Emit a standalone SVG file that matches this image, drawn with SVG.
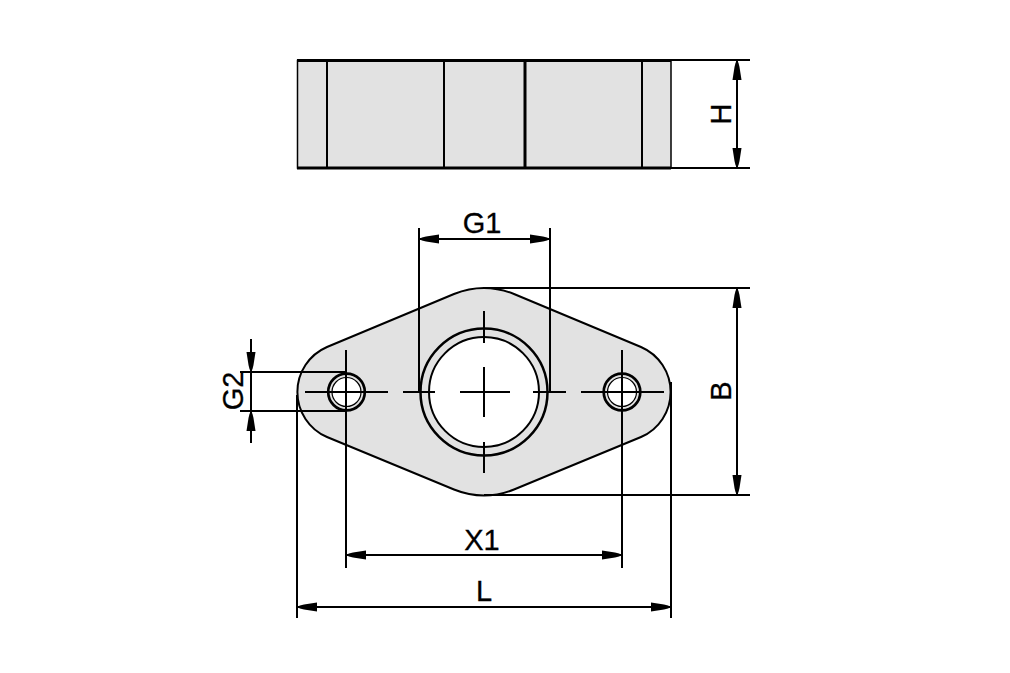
<svg xmlns="http://www.w3.org/2000/svg" width="1010" height="673" viewBox="0 0 1010 673">
<style>
.body{fill:#e2e2e2;stroke:#000;stroke-width:2}
.hole{fill:#fff;stroke:#000}
.ring{fill:#e2e2e2;stroke:#000}
.ln{fill:none;stroke:#000;stroke-width:2}
.thick{fill:none;stroke:#000;stroke-width:3}
.dim{fill:none;stroke:#000;stroke-width:2;marker-end:url(#arrow)}
text{font-family:"Liberation Sans",Arial,sans-serif;font-size:29px;fill:#000;stroke:#000;stroke-width:.3;text-anchor:middle}
</style>
<defs>
<marker id="arrow" markerUnits="userSpaceOnUse" markerWidth="22" markerHeight="12" refX="21" refY="6" orient="auto">
<polygon points="21,6 18,4.500 14,3.500 1,1.500 1,10.500 14,8.500 18,7.500" fill="#000"/>
</marker>
</defs>
<rect width="1010" height="673" fill="#fff"/>
<g id="side-view">
<rect x="297.5" y="60.5" width="373.5" height="107.5" fill="#e2e2e2" stroke="#000" stroke-width="1.5"/>
<path class="thick" d="M297 60.5H671M297 168H671"/>
<path class="ln" d="M327 60V168M444 60V168M642 60V168"/>
<path class="thick" d="M525 60V168"/>
</g>
<g id="plate">
<path class="body" d="M327 347L454 294A80 80 0 0 1 514 294L641 347A49 49 0 0 1 641 437L514 489.500A80 80 0 0 1 454 489.500L327 437A49 49 0 0 1 327 347Z"/>
</g>
<g id="large-bore">
<circle class="ring" cx="484" cy="392" r="63.500" stroke-width="2.500"/>
<circle class="hole" cx="484" cy="392" r="55" stroke-width="2"/>
</g>
<g id="left-hole">
<circle class="ring" cx="346.500" cy="392" r="18.300" stroke-width="2.700"/>
<circle class="hole" cx="346.500" cy="392" r="14.500" stroke-width="1.200"/>
</g>
<g id="right-hole">
<circle class="ring" cx="622" cy="392" r="18.300" stroke-width="2.700"/>
<circle class="hole" cx="622" cy="392" r="14.500" stroke-width="1.200"/>
</g>
<g id="connectors">
<path class="ln" d="M305 392H388M403 392H435M460 392H510M533 392H566M581 392H664M484 311V343M484 367V417M484 442V473"/>
<path class="ln" d="M346 350V568M622 350V568M297 395V618M671 382V618M419 228V392M550 228V392"/>
<path class="ln" d="M671 60H750M671 168H750M484 288H750M484 495H750M240 372H346M240 411H346"/>
<path class="dim" d="M737 114V60"/><path class="dim" d="M737 114V168"/>
<path class="dim" d="M737 392V288"/><path class="dim" d="M737 392V495"/>
<path class="dim" d="M484 239H419"/><path class="dim" d="M484 239H550"/>
<path class="dim" d="M484 555H346"/><path class="dim" d="M484 555H622"/>
<path class="dim" d="M484 607H297"/><path class="dim" d="M484 607H671"/>
<path class="dim" d="M251 339V372"/><path class="dim" d="M251 443V411"/>
<path class="ln" d="M251 372V411"/>
</g>
<g id="labels">
<text x="482" y="233">G1</text>
<text x="482" y="550">X1</text>
<text x="484" y="601">L</text>
<text transform="translate(731 114) rotate(-90)">H</text>
<text transform="translate(731 391) rotate(-90)">B</text>
<text transform="translate(243 391) rotate(-90)">G2</text>
</g>
</svg>
